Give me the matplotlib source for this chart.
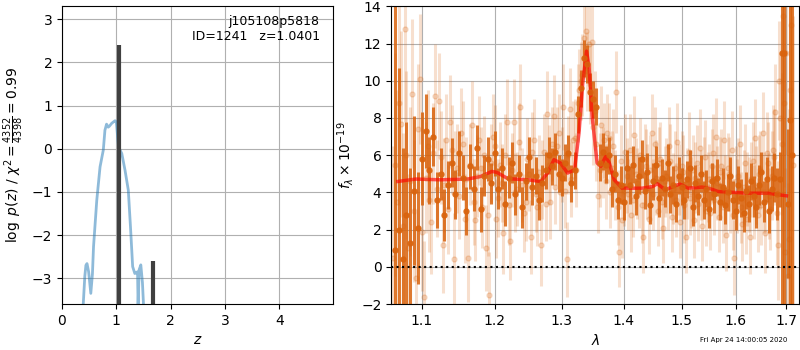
import numpy as np
import matplotlib
matplotlib.use('Agg')
import matplotlib.pyplot as plt
from matplotlib.ticker import FixedLocator, FixedFormatter, NullLocator

# p(z) curve (left panel)
z_grid = [0.39, 0.42, 0.44, 0.46, 0.49, 0.53, 0.56, 0.58, 0.64, 0.70, 0.76, 0.79, 0.82,
          0.85, 0.87, 0.915, 0.976, 1.0, 1.04, 1.10, 1.16, 1.22, 1.26, 1.30, 1.34,
          1.37, 1.39, 1.40, 1.42, 1.44, 1.45, 1.48, 1.50]
logpz = [-3.62, -2.95, -2.70, -2.66, -2.85, -3.35, -2.90, -2.27, -1.19, -0.42, -0.03,
         0.43, 0.57, 0.50, 0.52, 0.59, 0.65, 0.62, 0.04, -0.11, -0.50, -0.96, -1.81,
         -2.73, -2.89, -2.87, -2.85, -3.62, -2.80, -2.73, -2.69, -3.10, -3.62]
z_peaks = [1.04, 1.68]
peak_top = [2.4, -2.6]

# binned spectrum (dark points)
wave_b = [1.065, 1.070, 1.075, 1.080, 1.085, 1.090, 1.095, 1.100, 1.105, 1.110, 1.115,
          1.120, 1.125, 1.130, 1.135, 1.140, 1.145, 1.150, 1.155, 1.160, 1.165, 1.170,
          1.175, 1.180, 1.185, 1.190, 1.195, 1.200, 1.205, 1.210, 1.215, 1.220, 1.225,
          1.230, 1.235, 1.240, 1.245, 1.250, 1.255, 1.260, 1.265, 1.270, 1.275, 1.280,
          1.285, 1.290, 1.295, 1.300, 1.305, 1.310, 1.315, 1.320, 1.325, 1.330, 1.335,
          1.340, 1.345, 1.350, 1.355, 1.360, 1.365, 1.370, 1.375, 1.380, 1.385, 1.390,
          1.395, 1.400, 1.405, 1.410, 1.415, 1.420, 1.425, 1.430, 1.435, 1.440, 1.445,
          1.450, 1.455, 1.460, 1.465, 1.470, 1.475, 1.480, 1.485, 1.490, 1.495, 1.500,
          1.505, 1.510, 1.515, 1.520, 1.525, 1.530, 1.535, 1.540, 1.545, 1.550, 1.555,
          1.560, 1.565, 1.570, 1.575, 1.580, 1.585, 1.590, 1.595, 1.600, 1.605, 1.610,
          1.615, 1.620, 1.625, 1.630, 1.635, 1.640, 1.645, 1.650, 1.655, 1.660, 1.665,
          1.670, 1.675, 1.680, 1.686, 1.690, 1.695, 1.703, 1.708, 1.712]
flux_b = [0.9, 2.0, 0.4, 2.8, 1.3, 4.1, 2.1, 5.8, 7.3, 5.2, 7.0,
          3.6, 5.0, 2.8, 4.4, 5.6, 3.9, 6.1, 4.8, 3.0, 5.4, 4.2,
          6.4, 3.1, 4.9, 5.8, 4.5, 6.1, 4.2, 5.3, 3.4, 4.8, 5.6,
          3.9, 5.0, 3.2, 4.6, 5.9, 4.3, 4.9, 3.6, 4.5, 5.2, 6.0,
          5.4, 6.2, 5.0, 4.8, 5.6, 6.1, 4.5, 5.2, 8.2, 9.6, 11.2,
          10.9, 9.4, 9.0, 8.6, 5.6, 6.2, 5.5, 6.0, 4.2, 5.0, 3.6,
          4.4, 3.5, 5.3, 4.4, 5.5, 3.8, 4.9, 5.8, 4.1, 5.1, 3.3,
          4.6, 5.5, 3.7, 4.8, 4.2, 5.6, 3.9, 4.4, 3.4, 4.9, 4.3,
          3.6, 4.7, 5.3, 3.2, 4.5, 3.8, 5.0, 3.6, 4.2, 3.1, 4.6,
          3.9, 4.8, 3.5, 4.3, 3.3, 4.0, 4.9, 3.6, 3.0, 4.4, 3.7,
          2.9, 4.1, 3.4, 4.6, 3.8, 3.2, 4.4, 5.1, 3.5, 4.7, 3.0,
          4.2, 4.8, 3.9, 4.7, 11.5, 11.5, 3.4, 7.9, 6.0]
err_b = [25.0, 8.7, 6.0, 5.0, 4.0, 4.0, 3.0, 2.5, 2.0, 1.8, 1.6,
         1.5, 1.4, 1.4, 1.3, 1.3, 1.3, 1.2, 1.2, 1.3, 1.2, 1.2,
         1.2, 1.2, 1.1, 1.2, 1.1, 1.2, 1.1, 1.1, 1.2, 1.1, 1.1,
         1.1, 1.0, 1.1, 1.0, 1.1, 1.0, 1.0, 1.1, 1.0, 1.0, 1.0,
         1.0, 1.0, 1.0, 1.0, 1.0, 1.0, 1.0, 1.0, 1.0, 1.0, 1.0,
         1.0, 1.0, 1.0, 1.0, 1.0, 1.0, 1.0, 1.0, 1.0, 1.0, 1.0,
         1.0, 1.0, 1.0, 1.0, 1.0, 1.0, 1.0, 1.0, 1.0, 1.0, 1.0,
         1.0, 1.0, 1.0, 1.0, 1.0, 1.0, 1.0, 1.0, 1.0, 1.0, 1.0,
         1.0, 1.0, 1.0, 1.0, 1.0, 1.0, 1.0, 1.0, 1.0, 1.0, 1.0,
         1.0, 1.0, 1.0, 1.0, 1.0, 1.0, 1.0, 1.0, 1.0, 1.0, 1.0,
         1.0, 1.0, 1.0, 1.0, 1.1, 1.1, 1.1, 1.1, 1.1, 1.2, 1.2,
         1.2, 1.3, 1.4, 1.5, 15.0, 15.0, 4.0, 20.0, 25.0]

# unbinned spectrum, beam A (light points)
wave_u = [1.0625, 1.0675, 1.0725, 1.0775, 1.0825, 1.0875, 1.0925, 1.0975, 1.1025, 1.1075,
          1.1125, 1.1175, 1.1225, 1.1275, 1.1325, 1.1375, 1.1425, 1.1475, 1.1525, 1.1575,
          1.1625, 1.1675, 1.1725, 1.1775, 1.1825, 1.1875, 1.1925, 1.1975, 1.2025, 1.2075,
          1.2125, 1.2175, 1.2225, 1.2275, 1.2325, 1.2375, 1.2425, 1.2475, 1.2525, 1.2575,
          1.2625, 1.2675, 1.2725, 1.2775, 1.2825, 1.2875, 1.2925, 1.2975, 1.3025, 1.3075,
          1.3125, 1.3175, 1.3225, 1.3275, 1.3325, 1.3375, 1.3425, 1.3475, 1.3525, 1.3575,
          1.3625, 1.3675, 1.3725, 1.3775, 1.3825, 1.3875, 1.3925, 1.3975, 1.4025, 1.4075,
          1.4125, 1.4175, 1.4225, 1.4275, 1.4325, 1.4375, 1.4425, 1.4475, 1.4525, 1.4575,
          1.4625, 1.4675, 1.4725, 1.4775, 1.4825, 1.4875, 1.4925, 1.4975, 1.5025, 1.5075,
          1.5125, 1.5175, 1.5225, 1.5275, 1.5325, 1.5375, 1.5425, 1.5475, 1.5525, 1.5575,
          1.5625, 1.5675, 1.5725, 1.5775, 1.5825, 1.5875, 1.5925, 1.5975, 1.6025, 1.6075,
          1.6125, 1.6175, 1.6225, 1.6275, 1.6325, 1.6375, 1.6425, 1.6475, 1.6525, 1.6575,
          1.6625, 1.6675, 1.6725, 1.6775, 1.6825, 1.6875, 1.6925, 1.6975, 1.7025, 1.7075,
          1.7125]
flux_u = [0.5, 3.5, 7.7, 12.8, 1.0, 9.3, -0.6, 10.1, -1.6, 6.5,
          2.4, 9.2, 8.9, 1.2, 6.8, 7.8, 0.4, 5.3, 7.2, 2.6,
          0.5, 7.6, 2.5, 6.8, 3.2, 1.0, -1.5, 7.0, 2.6, 5.5,
          1.8, 7.8, 1.4, 7.8, 4.2, 8.6, 2.9, 5.8, 1.6, 6.8,
          3.2, 1.2, 6.2, 8.2, 3.5, 8.1, 6.5, 4.0, 8.6, 0.4,
          8.5, 6.8, 5.2, 9.5, 10.3, 12.7, 12.0, 12.1, 8.4, 3.8,
          7.6, 6.8, 7.2, 4.0, 6.5, 9.4, 0.8, 2.5, 6.2, 3.9,
          2.8, 7.1, 4.5, 6.0, 1.6, 5.4, 2.6, 7.2, 6.6, 3.0,
          5.8, 2.1, 4.9, 6.5, 2.7, 5.3, 6.7, 2.4, 5.1, 1.6,
          6.2, 4.0, 2.5, 5.6, 6.4, 2.2, 5.9, 4.3, 2.9, 6.1,
          7.0, 2.7, 5.4, 6.8, 1.7, 5.0, 6.3, 0.5, 3.8, 6.6,
          2.3, 5.6, 4.2, 1.6, 5.7, 6.9, 2.8, 5.2, 7.2, 1.8,
          5.6, 3.1, 6.3, 8.3, 1.2, 8.0, 13.5, 0.8, -0.5, 9.5,
          5.5]
err_u = [6.0, 6.0, 5.0, 5.0, 4.0, 4.0, 3.5, 3.5, 3.0, 3.0,
         2.8, 2.8, 2.6, 2.6, 2.5, 2.5, 2.5, 2.4, 2.4, 2.4,
         2.4, 2.4, 2.2, 2.4, 2.2, 2.3, 2.3, 2.3, 2.1, 2.3,
         2.2, 2.3, 2.1, 2.3, 2.0, 2.3, 2.1, 2.2, 2.0, 2.2,
         2.1, 2.2, 2.0, 2.3, 2.0, 2.2, 2.1, 2.0, 2.3, 2.0,
         2.2, 2.1, 2.0, 2.2, 2.2, 2.3, 2.2, 2.2, 2.1, 2.0,
         2.1, 2.0, 2.1, 1.9, 2.0, 2.2, 1.9, 2.0, 2.0, 1.9,
         2.0, 2.1, 1.9, 2.0, 1.9, 2.0, 1.9, 2.1, 2.0, 1.9,
         2.0, 1.9, 2.0, 2.1, 1.9, 2.0, 2.1, 1.9, 2.0, 1.9,
         2.1, 1.9, 2.0, 2.0, 2.1, 1.9, 2.0, 1.9, 2.0, 2.1,
         2.1, 1.9, 2.0, 2.1, 1.9, 2.0, 2.1, 2.0, 2.0, 2.1,
         2.0, 2.1, 2.0, 2.0, 2.1, 2.1, 2.0, 2.1, 2.2, 2.1,
         2.2, 2.2, 2.4, 2.6, 3.0, 3.5, 4.0, 4.5, 5.0, 6.0,
         8.0]

# unbinned spectrum, beam B (light points)
wave_v = [1.0650, 1.0700, 1.0750, 1.0800, 1.0850, 1.0900, 1.0950, 1.1000, 1.1050, 1.1100,
          1.1150, 1.1200, 1.1250, 1.1300, 1.1350, 1.1400, 1.1450, 1.1500, 1.1550, 1.1600,
          1.1650, 1.1700, 1.1750, 1.1800, 1.1850, 1.1900, 1.1950, 1.2000, 1.2050, 1.2100,
          1.2150, 1.2200, 1.2250, 1.2300, 1.2350, 1.2400, 1.2450, 1.2500, 1.2550, 1.2600,
          1.2650, 1.2700, 1.2750, 1.2800, 1.2850, 1.2900, 1.2950, 1.3000, 1.3050, 1.3100,
          1.3150, 1.3200, 1.3250, 1.3300, 1.3350, 1.3400, 1.3450, 1.3500, 1.3550, 1.3600,
          1.3650, 1.3700, 1.3750, 1.3800, 1.3850, 1.3900, 1.3950, 1.4000, 1.4050, 1.4100,
          1.4150, 1.4200, 1.4250, 1.4300, 1.4350, 1.4400, 1.4450, 1.4500, 1.4550, 1.4600,
          1.4650, 1.4700, 1.4750, 1.4800, 1.4850, 1.4900, 1.4950, 1.5000, 1.5050, 1.5100,
          1.5150, 1.5200, 1.5250, 1.5300, 1.5350, 1.5400, 1.5450, 1.5500, 1.5550, 1.5600,
          1.5650, 1.5700, 1.5750, 1.5800, 1.5850, 1.5900, 1.5950, 1.6000, 1.6050, 1.6100,
          1.6150, 1.6200, 1.6250, 1.6300, 1.6350, 1.6400, 1.6450, 1.6500, 1.6550, 1.6600,
          1.6650, 1.6700, 1.6750, 1.6800, 1.6850, 1.6900, 1.6950, 1.7000, 1.7050, 1.7100]
flux_v = [5.5, 8.8, 2.2, 6.0, 4.6, 3.0, 7.4, 1.9, 4.8, 3.6,
          6.1, 4.2, 5.9, 4.4, 3.1, 6.3, 5.0, 3.8, 6.6, 4.7,
          5.5, 3.5, 4.9, 5.3, 6.0, 2.8, 5.6, 6.5, 3.7, 4.5,
          6.0, 3.3, 5.2, 4.0, 6.7, 4.4, 3.5, 5.0, 6.2, 3.9,
          5.1, 4.7, 3.4, 5.5, 6.6, 4.3, 7.2, 5.5, 4.1, 6.0,
          4.7, 6.9, 8.8, 10.0, 12.3, 10.5, 9.8, 7.5, 6.6, 5.2,
          5.6, 4.6, 6.9, 5.3, 4.4, 3.2, 5.7, 4.1, 4.9, 6.3,
          3.6, 5.0, 4.0, 3.3, 5.8, 4.6, 5.2, 3.9, 4.8, 5.6,
          3.5, 4.6, 3.9, 5.7, 4.2, 3.6, 4.7, 5.4, 3.3, 4.5,
          3.7, 5.2, 4.8, 3.4, 4.4, 5.0, 3.0, 4.7, 5.4, 3.6,
          4.5, 5.1, 3.2, 4.0, 5.3, 3.8, 2.8, 4.6, 4.9, 3.2,
          4.3, 2.6, 3.9, 4.7, 3.5, 4.4, 5.0, 3.3, 4.0, 6.1,
          3.8, 4.9, 5.9, 2.9, 10.0, 6.6, 8.8, 11.5, 1.5, 13.0]
err_v = [6.0, 5.5, 5.0, 4.5, 4.0, 3.8, 3.5, 3.2, 3.0, 2.8,
         2.7, 2.6, 2.5, 2.5, 2.4, 2.4, 2.3, 2.3, 2.3, 2.3,
         2.2, 2.3, 2.2, 2.2, 2.1, 2.2, 2.1, 2.2, 2.1, 2.1,
         2.2, 2.1, 2.0, 2.1, 2.1, 2.0, 2.1, 2.0, 2.1, 2.0,
         2.0, 2.1, 2.0, 2.1, 2.0, 2.0, 2.1, 2.0, 2.0, 2.1,
         2.0, 2.1, 2.1, 2.1, 2.2, 2.1, 2.1, 2.0, 2.0, 2.0,
         1.9, 2.0, 1.9, 2.0, 1.9, 2.0, 1.9, 1.9, 2.0, 1.9,
         2.0, 1.9, 1.9, 2.0, 1.9, 2.0, 1.9, 1.9, 2.0, 1.9,
         2.0, 1.9, 1.9, 2.0, 1.9, 2.0, 1.9, 1.9, 2.0, 1.9,
         2.0, 1.9, 1.9, 2.0, 1.9, 2.0, 1.9, 1.9, 2.0, 1.9,
         2.0, 1.9, 1.9, 2.0, 1.9, 2.0, 1.9, 1.9, 2.0, 1.9,
         2.0, 1.9, 2.0, 2.0, 2.0, 2.1, 2.1, 2.1, 2.2, 2.2,
         2.3, 2.4, 2.6, 2.8, 3.2, 3.8, 4.5, 5.5, 7.0, 9.0]

# best-fit model
wave_m = [1.069, 1.092, 1.125, 1.162, 1.180, 1.196, 1.203, 1.219, 1.248, 1.268, 1.278,
          1.288, 1.298, 1.309, 1.320, 1.327, 1.333, 1.339, 1.343, 1.348, 1.356, 1.362,
          1.370, 1.376, 1.384, 1.397, 1.431, 1.449, 1.457, 1.471, 1.488, 1.497, 1.512,
          1.537, 1.549, 1.567, 1.598, 1.625, 1.662, 1.700]
flux_m = [4.59, 4.72, 4.68, 4.72, 4.86, 5.13, 5.08, 4.74, 4.68, 4.59, 5.04,
          5.76, 5.58, 5.04, 5.22, 7.19, 9.88, 11.59, 10.78, 8.09, 5.58, 5.40,
          5.94, 5.58, 4.68, 4.23, 4.23, 4.32, 4.47, 4.14, 4.36, 4.45, 4.23,
          4.29, 4.23, 4.05, 4.00, 3.96, 3.96, 3.82]

orange = '#d9630d'

fig = plt.figure(figsize=(8, 3.5), dpi=100)
ax1 = fig.add_axes([0.0775, 0.131, 0.339, 0.851])
ax2 = fig.add_axes([0.489, 0.131, 0.51, 0.851])

# left: p(z)
ax1.plot(z_grid, logpz, color='#1f77b4', alpha=0.5, lw=2)
ax1.vlines(z_peaks, -3.6, peak_top, color='0.25', lw=3)
ax1.set_xlim(0, 4.99)
ax1.set_ylim(-3.6, 3.3)
ax1.grid()
ax1.set_xlabel(r'$z$')
ax1.set_ylabel(r'$\log\ p(z)$ / $\chi^2=\frac{4352}{4398}=0.99$')
ax1.text(0.95, 0.97, 'j105108p5818\nID=1241   z=1.0401', transform=ax1.transAxes,
         ha='right', va='top', fontsize=9)

# right: spectrum
for w, f, e in [(wave_u, flux_u, err_u), (wave_v, flux_v, err_v)]:
    ax2.errorbar(w, f, yerr=e, color=orange, alpha=0.2, marker='o',
                 ms=3.6, ls='none', lw=2.2)
ax2.errorbar(wave_b, flux_b, yerr=err_b, color=orange, alpha=0.85, marker='o',
             ms=3.6, ls='none', lw=2.2)
ax2.plot(wave_m, flux_m, color='r', alpha=0.65, lw=2.5)
ax2.axhline(0, color='k', ls=':', lw=1.5)
ax2.set_xscale('log')
ax2.set_xlim(1.0605, 1.726)
ax2.set_ylim(-2, 14)
ticks = [1.1, 1.2, 1.3, 1.4, 1.5, 1.6, 1.7]
ax2.xaxis.set_major_locator(FixedLocator(ticks))
ax2.xaxis.set_major_formatter(FixedFormatter([str(t) for t in ticks]))
ax2.xaxis.set_minor_locator(NullLocator())
ax2.grid()
ax2.set_xlabel(r'$\lambda$')
ax2.set_ylabel(r'$f_\lambda\times10^{-19}$')

fig.text(0.984, 0.02, 'Fri Apr 24 14:00:05 2020', ha='right', va='bottom', fontsize=5)

fig.savefig('out.png', dpi=100)
